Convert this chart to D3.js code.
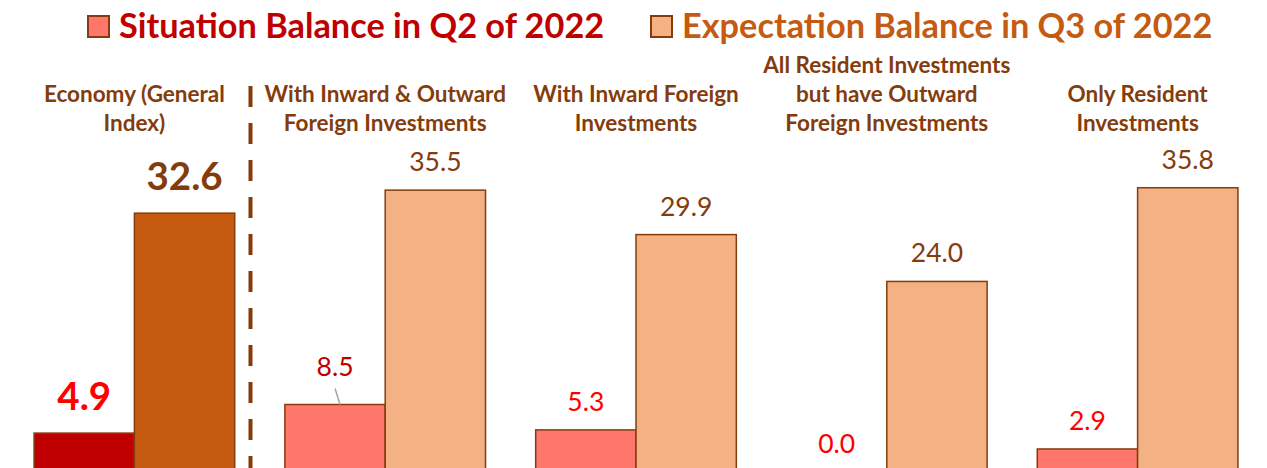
<!DOCTYPE html>
<html>
<head>
<meta charset="utf-8">
<script src="https://cdn.jsdelivr.net/npm/d3@7"></script>
<style>
  html, body { margin: 0; padding: 0; background: #fff; }
  svg { display: block; font-family: Lato, "Open Sans", sans-serif; }
</style>
</head>
<body>
<div id="chart"></div>
<script>
// CHART DATA
const categories = [
  ['Economy (General', 'Index)'],
  ['With Inward & Outward', 'Foreign Investments'],
  ['With Inward Foreign', 'Investments'],
  ['All Resident Investments', 'but have Outward', 'Foreign Investments'],
  ['Only Resident', 'Investments']
];
const situationQ2 = [4.9, 8.5, 5.3, 0.0, 2.9];
const expectationQ3 = [32.6, 35.5, 29.9, 24.0, 35.8];
const seriesNames = ['Situation Balance in Q2 of 2022', 'Expectation Balance in Q3 of 2022'];

// PLOT DEFAULTS
const WIDTH = 1267;
const HEIGHT = 468;
const BASELINE = 472; // zero line sits just below the visible area
const BROWN = '#843C0C';

const svg = d3.select('#chart')
  .append('svg')
  .attr('width', WIDTH)
  .attr('height', HEIGHT);

// scales
const xGroup = d3.scaleBand()
  .domain(d3.range(categories.length))
  .range([9, 1263])
  .paddingInner(0.2)
  .paddingOuter(0.1);

const xSeries = d3.scaleBand()
  .domain([0, 1])
  .range([0, xGroup.bandwidth()]);

const yScale = d3.scaleLinear()
  .domain([0, 40])
  .range([BASELINE, BASELINE - 7.94 * 40]);

// bar colours: first group is highlighted
function barFill (i, s) {
  if (i === 0) return s === 0 ? '#C00000' : '#C55A11';
  return s === 0 ? '#FF766B' : '#F4B183';
}

// legend
const legendX = [88, 651];
const legendColors = ['#C00000', '#C55A11'];
const legendFills = ['#FF766B', '#F4B183'];
const legend = svg.append('g');
seriesNames.forEach((name, s) => {
  legend.append('rect')
    .attr('x', legendX[s])
    .attr('y', 16)
    .attr('width', 21)
    .attr('height', 21)
    .attr('fill', legendFills[s])
    .attr('stroke', BROWN)
    .attr('stroke-width', 2);
  legend.append('text')
    .attr('x', legendX[s] + 31)
    .attr('y', 38)
    .attr('fill', legendColors[s])
    .attr('font-size', 34.3)
    .attr('font-weight', 'bold')
    .text(name);
});

// category labels, bottom aligned
const catLabels = svg.append('g');
categories.forEach((lines, i) => {
  const cx = xGroup(i) + xGroup.bandwidth() / 2;
  const t = catLabels.append('text')
    .attr('x', cx)
    .attr('text-anchor', 'middle')
    .attr('fill', BROWN)
    .attr('font-size', 22.5)
    .attr('font-weight', 'bold');
  lines.forEach((line, k) => {
    t.append('tspan')
      .attr('x', cx)
      .attr('y', 131 - (lines.length - 1 - k) * 29)
      .text(line);
  });
});

// dashed separator after the general index
svg.append('line')
  .attr('x1', 250.5)
  .attr('x2', 250.5)
  .attr('y1', 86)
  .attr('y2', HEIGHT)
  .attr('stroke', BROWN)
  .attr('stroke-width', 4)
  .attr('stroke-dasharray', '21 16');

// bars
const rows = [];
categories.forEach((c, i) => {
  rows.push({ i, s: 0, v: situationQ2[i] });
  rows.push({ i, s: 1, v: expectationQ3[i] });
});

svg.append('g')
  .selectAll('rect')
  .data(rows)
  .join('rect')
  .attr('x', d => xGroup(d.i) + xSeries(d.s))
  .attr('y', d => yScale(d.v))
  .attr('width', xSeries.bandwidth())
  .attr('height', d => yScale(0) - yScale(d.v))
  .attr('fill', d => barFill(d.i, d.s))
  .attr('stroke', BROWN)
  .attr('stroke-width', 1.5);

// value labels
function labelColor (d) {
  if (d.s === 1) return BROWN;
  if (d.i === 0) return '#FF0000';
  return d.i === 1 ? '#C00000' : '#FF0000';
}

svg.append('g')
  .selectAll('text')
  .data(rows)
  .join('text')
  .attr('x', d => xGroup(d.i) + xSeries(d.s) + xSeries.bandwidth() / 2)
  .attr('y', d => {
    if (d.i === 0) return yScale(d.v) - 23;
    if (d.i === 1 && d.s === 0) return yScale(d.v) - 29;
    return yScale(d.v) - 19;
  })
  .attr('text-anchor', 'middle')
  .attr('fill', labelColor)
  .attr('font-size', d => d.i === 0 ? 38.5 : 26.5)
  .attr('font-weight', d => d.i === 0 ? 'bold' : 'normal')
  .text(d => d.v.toFixed(1));

// leader line for the 8.5 label
const lead = rows.find(d => d.i === 1 && d.s === 0);
const leadX = xGroup(lead.i) + xSeries(lead.s) + xSeries.bandwidth() / 2;
svg.append('line')
  .attr('x1', leadX)
  .attr('y1', yScale(lead.v) - 16)
  .attr('x2', leadX + 5)
  .attr('y2', yScale(lead.v))
  .attr('stroke', '#A6A6A6')
  .attr('stroke-width', 1.5);
</script>
</body>
</html>
